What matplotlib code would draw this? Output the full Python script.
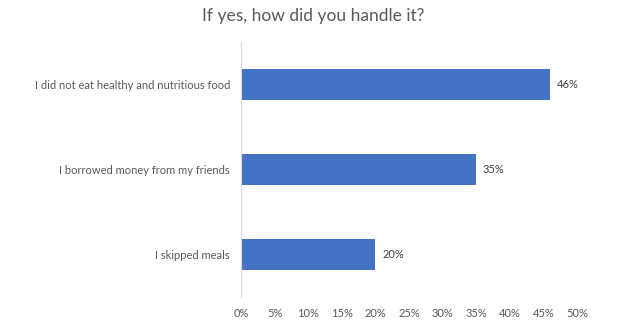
import matplotlib.pyplot as plt

# Survey answers, top to bottom
categories = ["I did not eat healthy and nutritious food",
              "I borrowed money from my friends",
              "I skipped meals"]
shares = [46, 35, 20]
x_ticks = [0, 5, 10, 15, 20, 25, 30, 35, 40, 45, 50]
title = "If yes, how did you handle it?"

plt.rcParams['font.family'] = ['Lato', 'DejaVu Sans']
grey = "#595959"

fig = plt.figure(figsize=(6.41, 3.33), dpi=100)
ax = fig.add_axes([241 / 641, 36 / 333, 336 / 641, 255 / 333])

pos = list(range(len(categories)))
ax.barh(pos, shares, height=0.353, color="#4472C4")
for p, v in zip(pos, shares):
    ax.text(v + 1.0, p, f"{v}%", va="center", ha="left", fontsize=8, color="#404040")

ax.set_ylim(len(categories) - 0.5, -0.5)
ax.set_yticks(pos)
ax.set_yticklabels(categories, fontsize=8, color=grey)
ax.set_xlim(0, 50)
ax.set_xticks(x_ticks)
ax.set_xticklabels([f"{t}%" for t in x_ticks], fontsize=8, color=grey)
ax.tick_params(length=0)
ax.tick_params(axis="y", pad=8)
ax.tick_params(axis="x", pad=8)

for side in ["top", "right", "bottom"]:
    ax.spines[side].set_visible(False)
ax.spines["left"].set_color("#D9D9D9")

fig.text(313.5 / 641, 1 - 16 / 333, title, ha="center", va="center",
         fontsize=12.5, color=grey)

fig.savefig("out.png", dpi=100)
